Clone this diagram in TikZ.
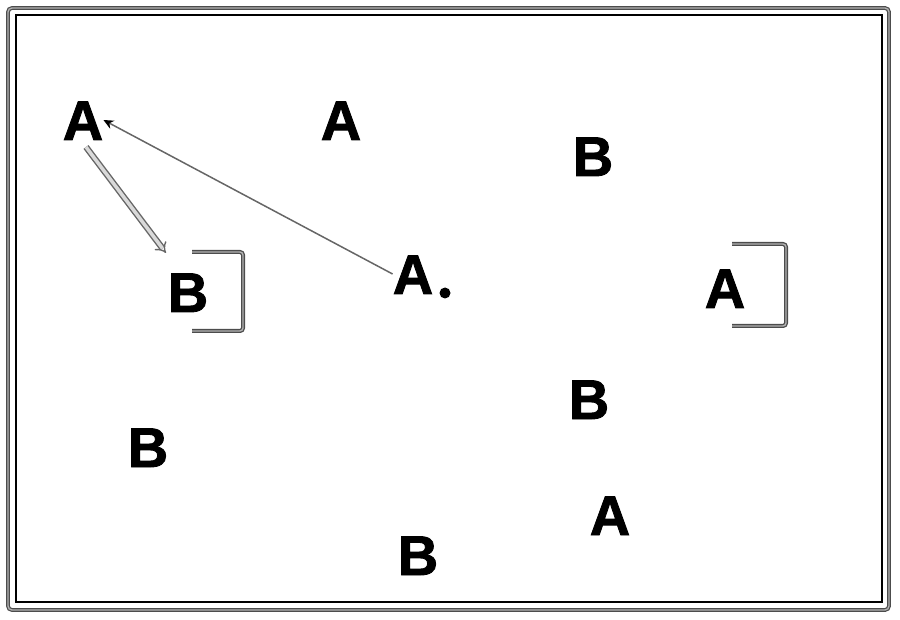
\documentclass[tikz,border=0pt]{standalone}
\usepackage{fontspec}
\setmainfont{Liberation Sans}[BoldFeatures={FakeBold=1.5}]
\usetikzlibrary{arrows.meta}
\tikzset{
  letter/.style={inner sep=0pt, font=\fontsize{56}{60}\bfseries\selectfont, text height=40pt, text depth=0pt},
  frameouter/.style={draw=black!70, double=black!30, double distance=1.4pt, line width=1.2pt, rounded corners=4pt},
  frameinner/.style={draw=black, line width=1.6pt},
  bracketline/.style={draw=black!70, double=black!30, double distance=1.4pt, line width=1.3pt, rounded corners=3pt},
  thinarrow/.style={draw=black!60, line width=1.5pt, -{Stealth[black,length=10pt,width=9pt]}},
  dblarrow/.style={draw=black!60, double=black!15, double distance=3.5pt, line width=1.4pt, -{Implies}},
}
\begin{document}
\begin{tikzpicture}[x=1pt,y=-1pt]
\useasboundingbox (0,0) rectangle (900,620);
% frame
\draw[frameouter] (8,8) rectangle (889,610);
\draw[frameinner] (16,15) rectangle (882,602);
% letters
\node[letter] (A1) at (83,120) {A};
\node[letter] (A2) at (341,120) {A};
\node[letter] (B1) at (593,156) {B};
\node[letter] (B2) at (188,292) {B};
\node[letter] (A3) at (413,274) {A};
\node[circle, fill=black, inner sep=0pt, minimum size=11pt] (dot) at (445,293) {};
\node[letter] (A4) at (725,288) {A};
\node[letter] (B3) at (589,399) {B};
\node[letter] (B4) at (148,447) {B};
\node[letter] (A5) at (610,515) {A};
\node[letter] (B5) at (418,555) {B};
% brackets
\draw[bracketline] (192,252) -- (243,252) -- (243,331) -- (192,331);
\draw[bracketline] (732,244) -- (786,244) -- (786,326) -- (732,326);
% arrows
\coordinate (tipB) at (166,253);
\coordinate (startD) at (86,147);
\draw[thinarrow] (A3.west) -- (A1.east);
\draw[dblarrow] (startD) -- (tipB);
\end{tikzpicture}
\end{document}
